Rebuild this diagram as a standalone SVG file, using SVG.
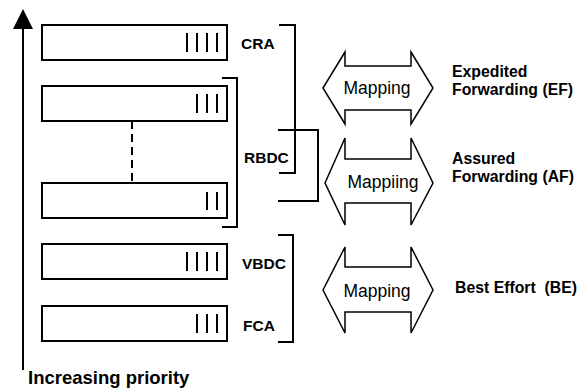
<svg xmlns="http://www.w3.org/2000/svg" width="588" height="391" viewBox="0 0 588 391">
<style>
.box{fill:#fff;stroke:#000;stroke-width:2}
.bar{stroke:#000;stroke-width:2}
.br{fill:none;stroke:#000;stroke-width:2}
.lbl{font-family:"Liberation Sans",Arial,sans-serif;font-weight:bold;font-size:15.5px;fill:#000}
.rl{font-family:"Liberation Sans",Arial,sans-serif;font-weight:bold;font-size:15.8px;fill:#000}
.map{font-family:"Liberation Sans",Arial,sans-serif;font-size:17.5px;fill:#000;text-anchor:middle}
.dbl{fill:#fff;stroke:#000;stroke-width:1.5;stroke-linejoin:miter}
</style>
<rect width="588" height="391" fill="#fff"/>
<g id="priority-axis">
<line x1="23" y1="25" x2="23" y2="370" stroke="#000" stroke-width="2"/>
<polygon points="23,9 33,29 13,29" fill="#000"/>
<text class="lbl" x="28" y="384" style="font-size:18.5px">Increasing priority</text>
</g>
<g id="queue-cra">
<rect class="box" x="42" y="25" width="185" height="35"/>
<line class="bar" x1="187" y1="33" x2="187" y2="52"/><line class="bar" x1="197" y1="33" x2="197" y2="52"/><line class="bar" x1="207" y1="33" x2="207" y2="52"/><line class="bar" x1="217" y1="33" x2="217" y2="52"/>
<text class="lbl" x="241" y="49">CRA</text>
</g>
<g id="queue-rbdc-high">
<rect class="box" x="42" y="86" width="185" height="35"/>
<line class="bar" x1="197" y1="94" x2="197" y2="113"/><line class="bar" x1="207" y1="94" x2="207" y2="113"/><line class="bar" x1="217" y1="94" x2="217" y2="113"/>
</g>
<g id="queue-rbdc-low">
<rect class="box" x="42" y="183" width="185" height="35"/>
<line class="bar" x1="207" y1="192" x2="207" y2="210"/><line class="bar" x1="217" y1="192" x2="217" y2="210"/>
</g>
<g id="label-rbdc">
<text class="lbl" x="244" y="163">RBDC</text>
</g>
<g id="queue-vbdc">
<rect class="box" x="42" y="244" width="185" height="35"/>
<line class="bar" x1="187" y1="252" x2="187" y2="271"/><line class="bar" x1="197" y1="252" x2="197" y2="271"/><line class="bar" x1="207" y1="252" x2="207" y2="271"/><line class="bar" x1="217" y1="252" x2="217" y2="271"/>
<text class="lbl" x="242" y="269">VBDC</text>
</g>
<g id="queue-fca">
<rect class="box" x="42" y="306" width="185" height="35"/>
<line class="bar" x1="197" y1="314" x2="197" y2="333"/><line class="bar" x1="207" y1="314" x2="207" y2="333"/><line class="bar" x1="217" y1="314" x2="217" y2="333"/>
<text class="lbl" x="243" y="331">FCA</text>
</g>
<g id="connectors">
<line x1="132" y1="121" x2="132" y2="183" stroke="#000" stroke-width="2" stroke-dasharray="8,5"/>
<polyline class="br" points="222,78 237,78 237,227 222,227"/>
<polyline class="br" points="279,25 295,25 295,173 279,173"/>
<polyline class="br" points="278,130 318,130 318,201 278,201"/>
<polyline class="br" points="278,235 293,235 293,342 278,342"/>
</g>
<g id="mapping-ef">
<polygon class="dbl" points="323,88 345,52 345,66 411,66 411,52 433,88 411,124 411,110 345,110 345,124"/>
<text class="map" x="377" y="94">Mapping</text>
<text class="rl" x="452" y="77">Expedited</text>
<text class="rl" x="452" y="95">Forwarding (EF)</text>
</g>
<g id="mapping-af">
<polygon class="dbl" points="325,183 345,138 345,159 411,159 411,138 433,183 411,225 411,203 345,203 345,225"/>
<text class="map" x="383" y="188">Mappiing</text>
<text class="rl" x="452" y="164">Assured</text>
<text class="rl" x="452" y="182">Forwarding (AF)</text>
</g>
<g id="mapping-be">
<polygon class="dbl" points="323,290 345,247 345,267 411,267 411,247 433,290 411,333 411,312 345,312 345,333"/>
<text class="map" x="377" y="297">Mapping</text>
<text class="rl" x="455" y="293" xml:space="preserve">Best Effort  (BE)</text>
</g>
</svg>
